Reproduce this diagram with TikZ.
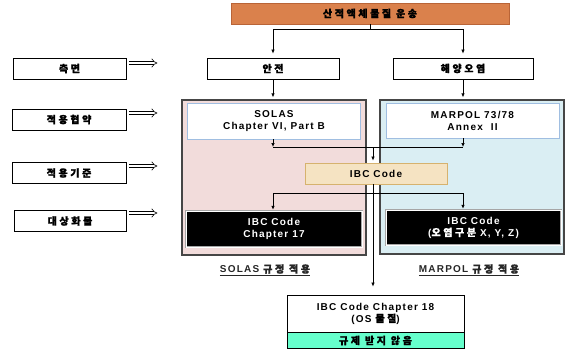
\documentclass[tikz,border=0pt]{standalone}
\usepackage{fontspec}
\setmainfont{Liberation Sans}[LetterSpace=12]
\newfontfamily\kr{Noto Sans CJK KR}[LetterSpace=26, FakeBold=1.2]
\usetikzlibrary{arrows.meta}
\definecolor{orangefill}{RGB}{218,129,76}
\definecolor{orangedraw}{RGB}{185,100,55}
\definecolor{pinkfill}{RGB}{242,220,219}
\definecolor{bluefill}{RGB}{218,238,243}
\definecolor{paneldraw}{RGB}{70,70,70}
\definecolor{innerdraw}{RGB}{160,190,225}
\definecolor{tanfill}{RGB}{245,227,194}
\definecolor{tandraw}{RGB}{214,178,110}
\definecolor{aquagreen}{RGB}{102,255,204}
\begin{document}
\begin{tikzpicture}[x=1pt,y=-1pt,
  txt/.style={font=\bfseries\fontsize{10}{12}\selectfont, align=center},
  box/.style={txt, draw=black, line width=0.8pt, fill=white, inner sep=0pt},
  panel/.style={draw=paneldraw, line width=1.2pt, inner sep=0pt},
  inner/.style={txt, draw=innerdraw, line width=0.8pt, fill=white, inner sep=0pt},
  blackbox/.style={txt, text=white, fill=black, draw=gray!70, double=white, double distance=0.8pt, line width=0.5pt, inner sep=0pt},
  arr/.style={-{Latex[length=4pt,width=3.5pt]}, line width=0.7pt},
  ln/.style={line width=0.7pt},
  hollow/.style={double, double distance=2.5pt, line width=0.6pt, -{Implies}}
]
\useasboundingbox (0,0) rectangle (566,351);

% top
\node[box, fill=orangefill, draw=orangedraw, minimum width=278, minimum height=21] (top) at (370,13.5) {\kr 산적액체물질 운송};
\node[box, minimum width=132, minimum height=21] (anjeon) at (273,68.5) {\kr 안전};
\node[box, minimum width=140, minimum height=21] (haeyang) at (463,68.5) {\kr 해양오염};

% left labels
\node[box, minimum width=113, minimum height=21] (l1) at (69.5,68.5) {\kr 측면};
\node[box, minimum width=114, minimum height=21] (l2) at (69,119.5) {\kr 적용협약};
\node[box, minimum width=114, minimum height=21] (l3) at (69,173) {\kr 적용기준};
\node[box, minimum width=112, minimum height=21] (l4) at (70,221) {\kr 대상화물};
\draw[hollow] ([xshift=3pt,yshift=5.5pt]l1.east) -- ++(28,0);
\draw[hollow] ([xshift=3pt,yshift=6.5pt]l2.east) -- ++(28,0);
\draw[hollow] ([xshift=3pt,yshift=7pt]l3.east) -- ++(28,0);
\draw[hollow] ([xshift=3pt,yshift=8pt]l4.east) -- ++(28,0);

% panels
\node[panel, fill=pinkfill, minimum width=184, minimum height=155] (pink) at (274,177.5) {};
\node[panel, fill=bluefill, minimum width=184, minimum height=154] (blue) at (472,177) {};

\node[inner, minimum width=173, minimum height=36] (solas) at (274,121) {SOLAS\\Chapter VI, Part B};
\node[inner, minimum width=173, minimum height=35] (marpol) at (472.5,120.5) {MARPOL 73/78\\Annex\ \ II};

\node[box, fill=tanfill, draw=tandraw, minimum width=142, minimum height=21] (ibc) at (376,173.5) {IBC Code};

\node[blackbox, minimum width=176, minimum height=36] (ch17) at (274,229) {IBC Code\\Chapter 17};
\node[blackbox, minimum width=175, minimum height=35] (xyz) at (473.5,227.5) {IBC Code\\({\kr 오염구분} X, Y, Z)};

% labels under panels
\node[txt, text=black!85] (sl) at (265,270) {\underline{SOLAS {\kr 규정 적용}}};
\node[txt, text=black!85] (ml) at (469,270) {\underline{MARPOL {\kr 규정 적용}}};

% bottom
\node[box, minimum width=177, minimum height=37] (b18) at (375.5,313.5) {IBC Code Chapter 18\\(OS {\kr 물질})};
\node[box, fill=aquagreen, minimum width=177, minimum height=16] (nr) at (375.5,340.5) {\kr 규제 받지 않음};

% connectors
\draw[ln] (top.south) -- ++(0,5) coordinate (t1);
\draw[arr, shorten >=4pt] (t1) -| (anjeon.north);
\draw[arr, shorten >=4pt] (t1) -| (haeyang.north);
\draw[arr, shorten >=2pt] (anjeon.south) -- (anjeon.south |- pink.north);
\draw[arr, shorten >=2pt] (haeyang.south) -- (haeyang.south |- blue.north);

\coordinate (jl) at (373,147);
\draw[arr] (anjeon |- solas.south) -- (anjeon |- jl);
\draw[arr] (haeyang |- marpol.south) -- (haeyang |- jl);
\draw[ln] (anjeon |- jl) -- (haeyang |- jl);
\draw[arr, shorten >=2pt] (jl) -- (jl |- ibc.north);

\coordinate (jb) at (373,193);
\draw[ln] (jl |- ibc.south) -- (jb);
\draw[ln] (anjeon |- jb) -- (haeyang |- jb);
\draw[arr, shorten >=1pt] (anjeon |- jb) -- (anjeon |- ch17.north);
\draw[arr, shorten >=1pt] (haeyang |- jb) -- (haeyang |- xyz.north);
\draw[arr, shorten >=8pt] (jb) -- (jb |- b18.north);
\end{tikzpicture}
\end{document}
